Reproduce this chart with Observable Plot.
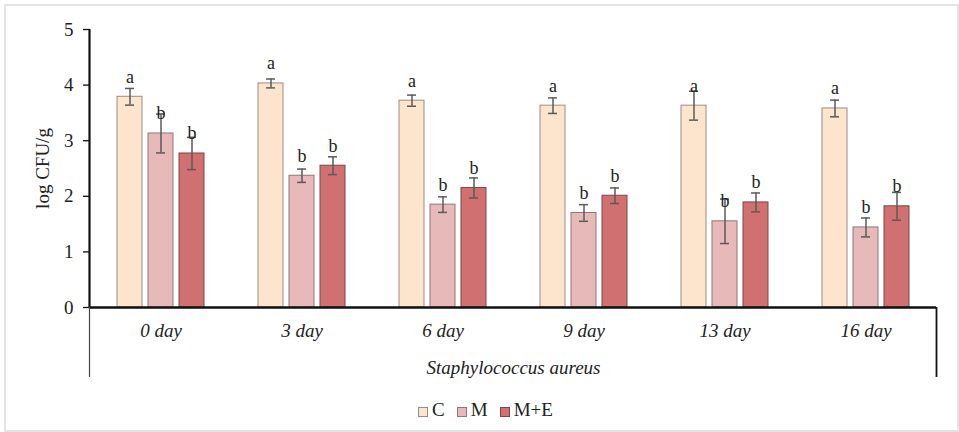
<!DOCTYPE html>
<html>
<head>
<meta charset="utf-8">
<script src="https://cdn.jsdelivr.net/npm/d3@7"></script>
<script src="https://cdn.jsdelivr.net/npm/@observablehq/plot@0.6"></script>
<style>
  html, body { margin: 0; padding: 0; background: #fff; }
  #wrap { position: relative; width: 959px; height: 432px; overflow: hidden; font-family: "Liberation Serif", "Times New Roman", serif; color: #222; }
  #border { position: absolute; left: 4px; top: 4px; width: 951px; height: 424px; border: 2px solid #e4e4e4; pointer-events: none; }
  #chart { position: absolute; left: 0; top: 0; }
  #chart svg, #chart svg text { font-family: "Liberation Serif", "Times New Roman", serif !important; }
  #legend { position: absolute; left: 0; top: 399px; width: 959px; display: flex; justify-content: center; padding-left: 12px; box-sizing: border-box; font-size: 19px; gap: 12px; }
  #legend .item { display: flex; align-items: center; }
  #legend .sw { width: 8px; height: 8px; margin-right: 4px; margin-top: 3px; }
</style>
</head>
<body>
<div id="wrap">
  <div id="chart"></div>
  <div id="legend"></div>
  <div id="border"></div>
</div>
<script>
const days = ["0 day", "3 day", "6 day", "9 day", "13 day", "16 day"];
const treatments = ["C", "M", "M+E"];
const valuesC  = [3.79, 4.03, 3.72, 3.63, 3.63, 3.58];
const valuesM  = [3.13, 2.37, 1.85, 1.70, 1.55, 1.44];
const valuesME = [2.77, 2.55, 2.15, 2.01, 1.89, 1.82];
const errC  = [0.15, 0.08, 0.10, 0.14, 0.26, 0.15];
const errM  = [0.35, 0.12, 0.14, 0.15, 0.40, 0.17];
const errME = [0.29, 0.16, 0.18, 0.14, 0.17, 0.25];
const lettersC  = ["a", "a", "a", "a", "a", "a"];
const lettersM  = ["b", "b", "b", "b", "b", "b"];
const lettersME = ["b", "b", "b", "b", "b", "b"];
const yTicks = [0, 1, 2, 3, 4, 5];

const fills   = {"C": "#FCE4CD", "M": "#E8B9B9", "M+E": "#D07070"};
const strokes = {"C": "#9a8c84", "M": "#8f7777", "M+E": "#7a4848"};

const vals = [valuesC, valuesM, valuesME];
const errs = [errC, errM, errME];
const lets = [lettersC, lettersM, lettersME];
const data = days.flatMap((d, i) => treatments.map((t, j) => ({
  day: d, trt: t, value: vals[j][i], err: errs[j][i], letter: lets[j][i]
})));

const W = 959, H = 390, mL = 90, mR = 23, mT = 29, mB = 83;
const errColor = "#5a5a5a";
const serif = "Liberation Serif";

const plot = Plot.plot({
  width: W, height: H,
  marginLeft: mL, marginRight: mR, marginTop: mT, marginBottom: mB,
  style: {fontFamily: serif, fontSize: "18px", color: "#222", background: "transparent", overflow: "visible"},
  fx: {domain: days, padding: 0, label: null},
  x: {domain: treatments, paddingInner: 0.2, paddingOuter: 0.85, axis: null},
  y: {domain: [0, 5]},
  marks: [
    ...treatments.map(t => Plot.barY(data.filter(d => d.trt === t), {
      fx: "day", x: "trt", y: "value", fill: fills[t], stroke: strokes[t], strokeWidth: 1
    })),
    Plot.ruleX(data, {fx: "day", x: "trt", y1: d => d.value - d.err, y2: d => d.value + d.err, stroke: errColor, strokeWidth: 1.5}),
    Plot.tickY(data, {fx: "day", x: "trt", y: d => d.value + d.err, insetLeft: 8, insetRight: 8, stroke: errColor, strokeWidth: 1.5}),
    Plot.tickY(data, {fx: "day", x: "trt", y: d => d.value - d.err, insetLeft: 8, insetRight: 8, stroke: errColor, strokeWidth: 1.5}),
    Plot.text(data, {fx: "day", x: "trt", y: "value", text: "letter", dy: -14, lineAnchor: "bottom", fontSize: 18, fontFamily: serif, fill: "#222"}),
    Plot.ruleY([0], {stroke: "#111", strokeWidth: 2.5}),
    Plot.axisY({ticks: yTicks, tickFormat: d3.format("d"), tickSize: 7, tickPadding: 10, stroke: "#111", strokeWidth: 1.3,
      fontSize: 19, fontFamily: serif,
      label: "log CFU/g", labelAnchor: "center", labelArrow: "none", labelOffset: 55}),
    Plot.axisFx({anchor: "bottom", tickSize: 0, tickPadding: 16, fontSize: 19, fontFamily: serif, fontStyle: "italic",
      label: "Staphylococcus aureus", labelAnchor: "center", labelArrow: "none", labelOffset: 66})
  ]
});

// y-axis line and the category frame extending below the x axis
const svg = d3.select(plot.tagName === "svg" ? plot : plot.querySelector("svg"));
const yScale = plot.scale("y");
const y0 = yScale.apply(0);
const yTop = yScale.apply(yTicks[yTicks.length - 1]);
const bottom = H - 13;
svg.append("line").attr("x1", mL - 0.5).attr("x2", mL - 0.5).attr("y1", yTop).attr("y2", y0)
  .attr("stroke", "#111").attr("stroke-width", 2.2);
[mL - 0.5, W - mR + 0.5].forEach((x, i) => {
  svg.append("line").attr("x1", x).attr("x2", x).attr("y1", y0).attr("y2", bottom)
    .attr("stroke", i === 0 ? "#444" : "#111").attr("stroke-width", i === 0 ? 1.2 : 1.8);
});

document.getElementById("chart").appendChild(plot);

const legend = d3.select("#legend");
treatments.forEach(t => {
  const item = legend.append("div").attr("class", "item");
  item.append("div").attr("class", "sw").style("background", fills[t]).style("border", `1px solid ${strokes[t]}`);
  item.append("span").text(t);
});
</script>
</body>
</html>
